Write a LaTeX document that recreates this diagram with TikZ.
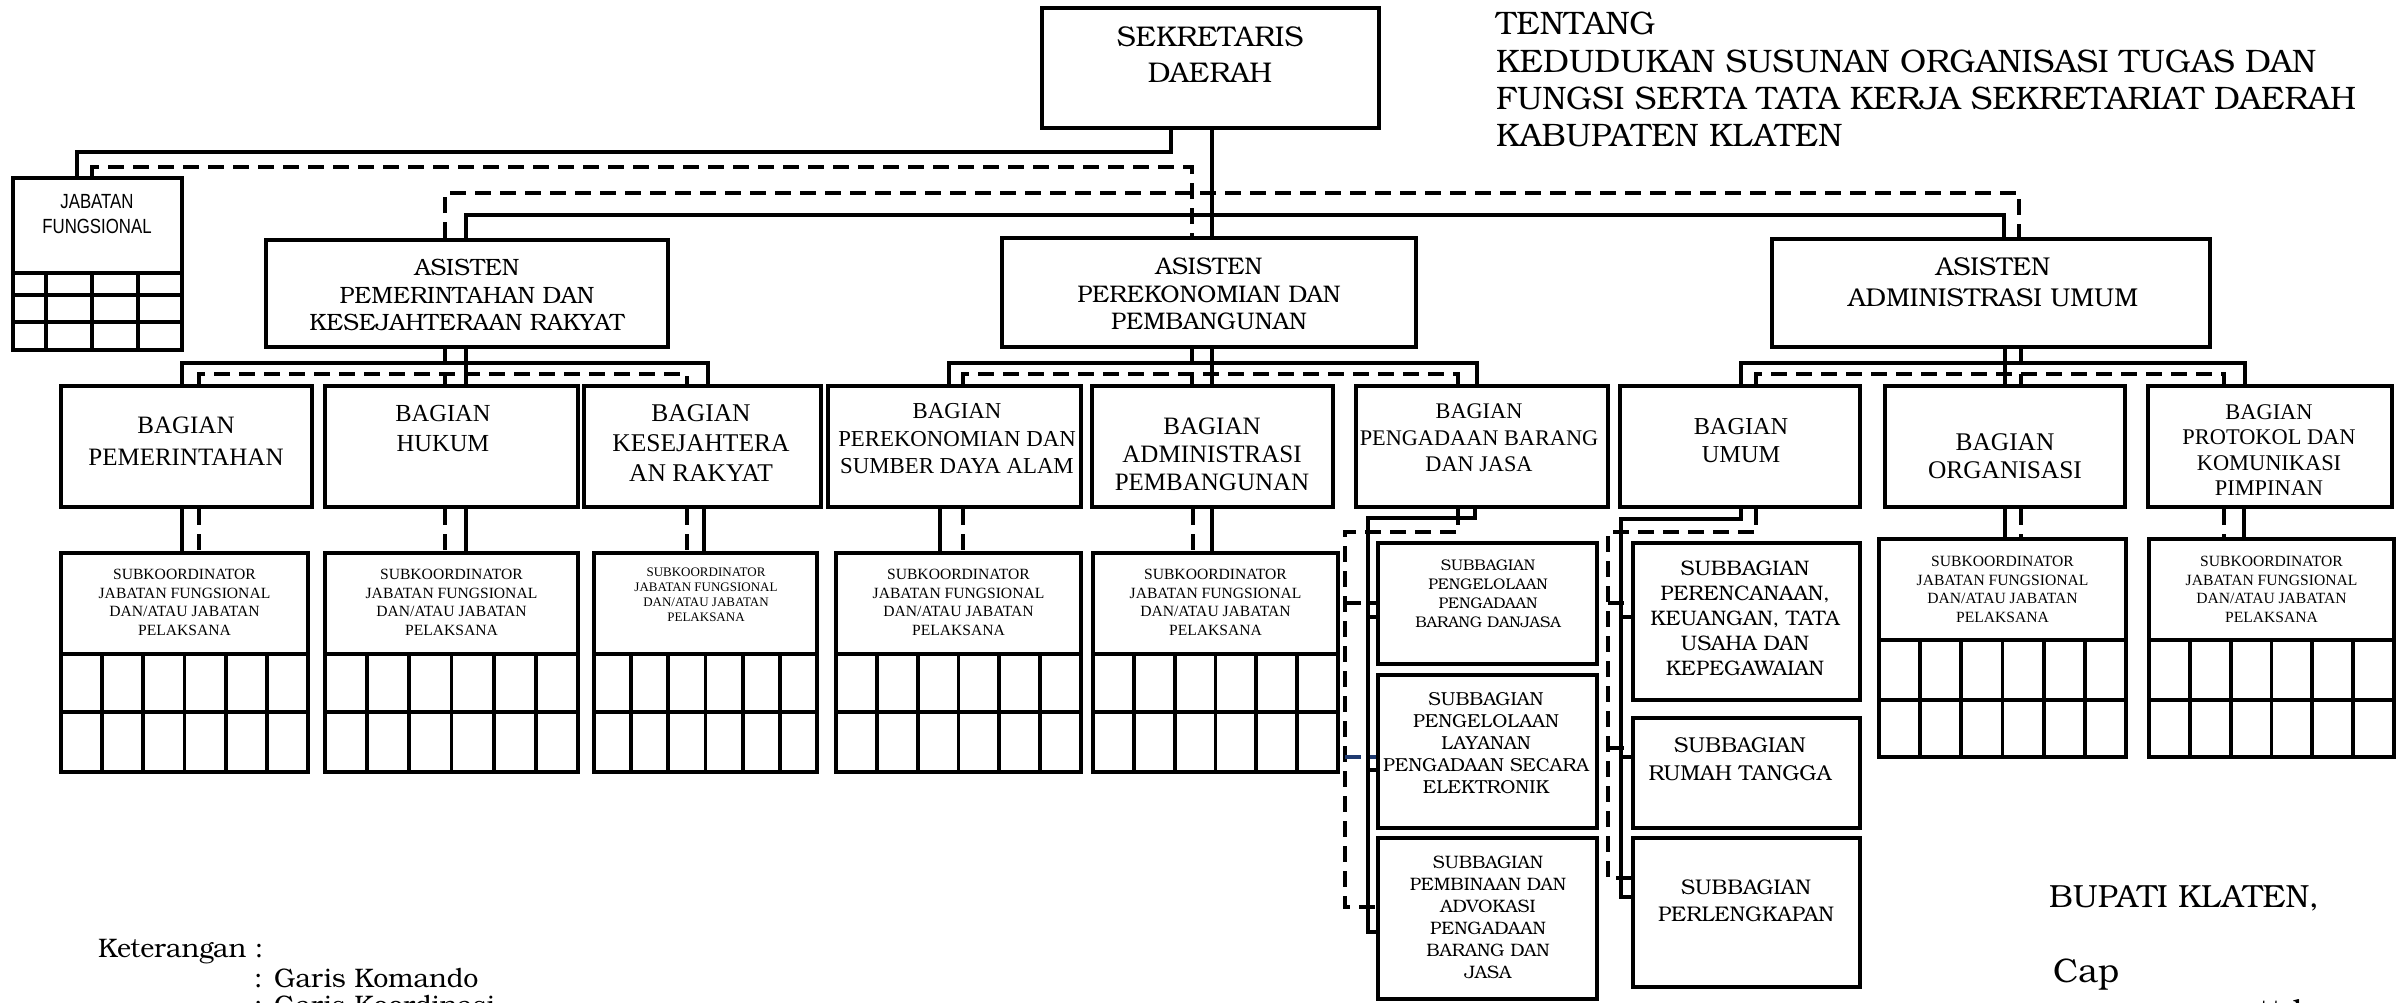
\documentclass[tikz,border=0pt]{standalone}
\usepackage{fontspec}
\setmainfont{Liberation Serif}
\newfontfamily\bk{TeX Gyre Bonum}
\newfontfamily\jfont[FakeStretch=0.82]{Liberation Sans}
\usetikzlibrary{fit}
\definecolor{navyline}{HTML}{1F3A70}
\newcommand\fsz[2]{\fontsize{#1pt}{#2pt}\selectfont}
\begin{document}
\begin{tikzpicture}[x=1pt,y=-1pt,
  bx/.style={draw, line width=4pt, inner sep=0pt, rectangle},
  cmd/.style={line width=3.8pt},
  crd/.style={line width=3.8pt, dash pattern=on 16pt off 9pt},
  grd/.style={line width=3.8pt},
  tx/.style={align=center, inner sep=0pt, text=black}]
\useasboundingbox (0,0) rectangle (2397,1002);
\fill[white] (0,0) rectangle (2397,1002);

% ---------- boxes ----------
\node[bx, fit={(1042,8) (1379,128)}] (sek) {};
\node[bx, fit={(13,178) (182,350)}] (jf) {};
\node[bx, fit={(266,240) (668,347)}] (asPem) {};
\node[bx, fit={(1002,238) (1416,347)}] (asPer) {};
\node[bx, fit={(1772,239) (2210,347)}] (asAdm) {};

\node[bx, fit={(61,386) (312,507)}] (bPem) {};
\node[bx, fit={(325,386) (578,507)}] (bHuk) {};
\node[bx, fit={(584,386) (821,507)}] (bKes) {};
\node[bx, fit={(828,386) (1081,507)}] (bPer) {};
\node[bx, fit={(1092,386) (1333,507)}] (bAdp) {};
\node[bx, fit={(1356,386) (1608,507)}] (bPbj) {};
\node[bx, fit={(1620,386) (1860,507)}] (bUmu) {};
\node[bx, fit={(1885,386) (2125,507)}] (bOrg) {};
\node[bx, fit={(2148,386) (2392,507)}] (bPro) {};

\node[bx, fit={(61,553) (308,772)}] (sPem) {};
\node[bx, fit={(325,553) (578,772)}] (sHuk) {};
\node[bx, fit={(594,553) (817,772)}] (sKes) {};
\node[bx, fit={(836,553) (1081,772)}] (sPer) {};
\node[bx, fit={(1093,553) (1338,772)}] (sAdp) {};
\node[bx, fit={(1879,539) (2126,757)}] (sOrg) {};
\node[bx, fit={(2149,539) (2394,757)}] (sPro) {};

\node[bx, fit={(1378,543) (1597,664)}] (sb1) {};
\node[bx, fit={(1378,675) (1597,828)}] (sb2) {};
\node[bx, fit={(1378,838) (1597,999)}] (sb3) {};
\node[bx, fit={(1633,543) (1860,700)}] (su1) {};
\node[bx, fit={(1633,718) (1860,828)}] (su2) {};
\node[bx, fit={(1633,838) (1860,987)}] (su3) {};

% ---------- grids ----------
\draw[grd] (13,273)--(182,273) (13,295)--(182,295) (13,322)--(182,322);
\foreach \x in {46,92,138} \draw[grd] (\x,273)--(\x,350);
\foreach \a/\b/\t/\m/\e in {61/308/654/712/772, 325/578/654/712/772, 594/817/654/712/772,
    836/1081/654/712/772, 1093/1338/654/712/772, 1879/2126/640/700/757, 2149/2394/640/700/757} {
  \draw[grd] (\a,\t) -- (\b,\t) (\a,\m) -- (\b,\m);
  \foreach \k in {1,...,5} \draw[grd] ({\a+\k*(\b-\a)/6},\t) -- ({\a+\k*(\b-\a)/6},\e);
}

% ---------- texts ----------
\node[tx, font={\bk\fsz{28.5}{36}}] (sek-t) at (1210,55) {SEKRETARIS\\DAERAH};
\node[tx, font={\jfont\fsz{20.5}{25}}] (jf-t) at (97,214) {JABATAN\\FUNGSIONAL};
\node[tx, font={\bk\fsz{23.6}{27.5}}] (asPem-t) at (467,295) {ASISTEN\\PEMERINTAHAN DAN\\KESEJAHTERAAN RAKYAT};
\node[tx, font={\bk\fsz{24}{27.5}}] (asPer-t) at (1209,294) {ASISTEN\\PEREKONOMIAN DAN\\PEMBANGUNAN};
\node[tx, font={\bk\fsz{25.8}{31}}] (asAdm-t) at (1993,282) {ASISTEN\\ADMINISTRASI UMUM};

\node[tx, font={\fsz{25}{32}}] (bPem-t) at (186,441) {BAGIAN\\PEMERINTAHAN};
\node[tx, font={\fsz{24.5}{30}}] (bHuk-t) at (443,428) {BAGIAN\\HUKUM};
\node[tx, font={\fsz{25.5}{30}}] (bKes-t) at (701,443) {BAGIAN\\KESEJAHTERA\\AN RAKYAT};
\node[tx, font={\fsz{22.8}{27.5}}] (bPer-t) at (957,439) {BAGIAN\\PEREKONOMIAN DAN\\SUMBER DAYA ALAM};
\node[tx, font={\fsz{25}{28}}] (bAdp-t) at (1212,454) {BAGIAN\\ADMINISTRASI\\PEMBANGUNAN};
\node[tx, font={\fsz{22.3}{26.5}}] (bPbj-t) at (1479,438) {BAGIAN\\PENGADAAN BARANG\\DAN JASA};
\node[tx, font={\fsz{24.3}{28}}] (bUmu-t) at (1741,441) {BAGIAN\\UMUM};
\node[tx, font={\fsz{25.4}{28}}] (bOrg-t) at (2005,456) {BAGIAN\\ORGANISASI};
\node[tx, font={\fsz{22.4}{25.3}}] (bPro-t) at (2269,450) {BAGIAN\\PROTOKOL DAN\\KOMUNIKASI\\PIMPINAN};

\node[tx, font={\fsz{15.6}{18.5}}] (sPem-t) at (184.5,602.5) {SUBKOORDINATOR\\JABATAN FUNGSIONAL\\DAN/ATAU JABATAN\\PELAKSANA};
\node[tx, font={\fsz{15.6}{18.5}}] (sHuk-t) at (451.5,602.5) {SUBKOORDINATOR\\JABATAN FUNGSIONAL\\DAN/ATAU JABATAN\\PELAKSANA};
\node[tx, font={\fsz{13}{15}}] (sKes-t) at (706,595) {SUBKOORDINATOR\\JABATAN FUNGSIONAL\\DAN/ATAU JABATAN\\PELAKSANA};
\node[tx, font={\fsz{15.6}{18.5}}] (sPer-t) at (958.5,602.5) {SUBKOORDINATOR\\JABATAN FUNGSIONAL\\DAN/ATAU JABATAN\\PELAKSANA};
\node[tx, font={\fsz{15.6}{18.5}}] (sAdp-t) at (1215.5,602.5) {SUBKOORDINATOR\\JABATAN FUNGSIONAL\\DAN/ATAU JABATAN\\PELAKSANA};
\node[tx, font={\fsz{15.6}{18.5}}] (sOrg-t) at (2002.5,589.5) {SUBKOORDINATOR\\JABATAN FUNGSIONAL\\DAN/ATAU JABATAN\\PELAKSANA};
\node[tx, font={\fsz{15.6}{18.5}}] (sPro-t) at (2271.5,589.5) {SUBKOORDINATOR\\JABATAN FUNGSIONAL\\DAN/ATAU JABATAN\\PELAKSANA};

\node[tx, font={\bk\fsz{15.4}{19}}] (sb1-t) at (1488,594) {SUBBAGIAN\\PENGELOLAAN\\PENGADAAN\\BARANG DANJASA};
\node[tx, font={\bk\fsz{18.8}{22}}] (sb2-t) at (1486,743) {SUBBAGIAN\\PENGELOLAAN\\LAYANAN\\PENGADAAN SECARA\\ELEKTRONIK};
\node[tx, font={\bk\fsz{18}{22}}] (sb3-t) at (1488,917) {SUBBAGIAN\\PEMBINAAN DAN\\ADVOKASI\\PENGADAAN\\BARANG DAN\\JASA};
\node[tx, font={\bk\fsz{21}{25}}] (su1-t) at (1745,618) {SUBBAGIAN\\PERENCANAAN,\\KEUANGAN, TATA\\USAHA DAN\\KEPEGAWAIAN};
\node[tx, font={\bk\fsz{21.5}{28}}] (su2-t) at (1740,759) {SUBBAGIAN\\RUMAH TANGGA};
\node[tx, font={\bk\fsz{21.2}{27}}] (su3-t) at (1746,901) {SUBBAGIAN\\PERLENGKAPAN};

\node[tx, align=left, anchor=north west, font={\bk\fsz{32.5}{37.3}}] (title) at (1496,12)
  {TENTANG\\KEDUDUKAN SUSUNAN ORGANISASI TUGAS DAN\\FUNGSI SERTA TATA KERJA SEKRETARIAT DAERAH\\KABUPATEN KLATEN};

\node[tx, anchor=base west, font={\bk\fsz{26.8}{30}}] (ket) at (98,957) {Keterangan :};
\node[tx, anchor=base west, font={\bk\fsz{26.8}{30}}] (ket1) at (254,987) {: Garis Komando};
\node[tx, anchor=base west, font={\bk\fsz{26.8}{30}}] (ket2) at (254,1014) {: Garis Koordinasi};
\node[tx, anchor=base west, font={\bk\fsz{32}{36}}] (bupati) at (2049,907) {BUPATI KLATEN,};
\node[tx, anchor=base west, font={\bk\fsz{34}{38}}] (cap) at (2053,982) {Cap};
\node[tx, anchor=base west, font={\bk\fsz{32}{36}}] (ttd) at (2258,1022) {ttd};

% ---------- top connectors ----------
\draw[cmd] (sek.south -| 1212,0) -- (asPer.north -| 1212,0);
\draw[cmd] (sek.south -| 1171,0) |- (77,152) -- (jf.north -| 77,0);
\draw[crd] (jf.north -| 92,0) |- (1192,167) -- (asPer.north -| 1192,0);
\draw[cmd] (asPem.north -| 466,0) |- (2004,215) -- (asAdm.north -| 2004,0);
\draw[crd] (asPem.north -| 445,0) |- (2019,193) -- (asAdm.north -| 2019,0);

% ---------- asisten -> bagian ----------
\draw[cmd] (asPem.south -| 466,0) -- (bHuk.north -| 466,0);
\draw[cmd] (bPem.north -| 182,0) |- (708,363) -- (bKes.north -| 708,0);
\draw[crd] (asPem.south -| 445,0) -- (bHuk.north -| 445,0);
\draw[crd] (bPem.north -| 199,0) |- (687,374) -- (bKes.north -| 687,0);

\draw[cmd] (asPer.south -| 1212,0) -- (bAdp.north -| 1212,0);
\draw[cmd] (bPer.north -| 949,0) |- (1477,363) -- (bPbj.north -| 1477,0);
\draw[crd] (asPer.south -| 1192,0) -- (bAdp.north -| 1192,0);
\draw[crd] (bPer.north -| 963,0) |- (1458,374) -- (bPbj.north -| 1458,0);

\draw[cmd] (asAdm.south -| 2005,0) -- (bOrg.north -| 2005,0);
\draw[cmd] (bUmu.north -| 1741,0) |- (2245,363) -- (bPro.north -| 2245,0);
\draw[crd] (asAdm.south -| 2021,0) -- (bOrg.north -| 2021,0);
\draw[crd] (bUmu.north -| 1756,0) |- (2224,374) -- (bPro.north -| 2224,0);

% ---------- bagian -> subkoordinator ----------
\draw[cmd] (bPem.south -| 182,0) -- (sPem.north -| 182,0);
\draw[crd] (bPem.south -| 199,0) -- (sPem.north -| 199,0);
\draw[crd] (bHuk.south -| 445,0) -- (sHuk.north -| 445,0);
\draw[cmd] (bHuk.south -| 466,0) -- (sHuk.north -| 466,0);
\draw[crd] (bKes.south -| 687,0) -- (sKes.north -| 687,0);
\draw[cmd] (bKes.south -| 704,0) -- (sKes.north -| 704,0);
\draw[cmd] (bPer.south -| 940,0) -- (sPer.north -| 940,0);
\draw[crd] (bPer.south -| 963,0) -- (sPer.north -| 963,0);
\draw[crd] (bAdp.south -| 1193,0) -- (sAdp.north -| 1193,0);
\draw[cmd] (bAdp.south -| 1212,0) -- (sAdp.north -| 1212,0);
\draw[cmd] (bOrg.south -| 2005,0) -- (sOrg.north -| 2005,0);
\draw[crd] (bOrg.south -| 2021,0) -- (sOrg.north -| 2021,0);
\draw[crd] (bPro.south -| 2224,0) -- (sPro.north -| 2224,0);
\draw[cmd] (bPro.south -| 2244,0) -- (sPro.north -| 2244,0);

% ---------- pengadaan subbagian ----------
\coordinate (pbjS) at (1368,518);
\coordinate (pbjD) at (1345,532);
\draw[cmd] (bPbj.south -| 1475,0) |- (pbjS) |- (sb3.west |- 0,932);
\draw[cmd] (pbjS |- 0,617) -- (sb1.west |- 0,617);
\draw[cmd] (pbjS |- 0,770) -- (sb2.west |- 0,770);
\draw[crd] (bPbj.south -| 1458,0) |- (pbjD) |- (sb3.west |- 0,907);
\draw[crd] (pbjD |- 0,603) -- (sb1.west |- 0,603);
\draw[crd, navyline] (pbjD |- 0,757) -- (sb2.west |- 0,757);

% ---------- umum subbagian ----------
\coordinate (umuS) at (1621,519);
\coordinate (umuD) at (1608,532);
\draw[cmd] (bUmu.south -| 1741,0) |- (umuS) |- (su3.west |- 0,897);
\draw[cmd] (umuS |- 0,617) -- (su1.west |- 0,617);
\draw[cmd] (umuS |- 0,757) -- (su2.west |- 0,757);
\draw[crd] (bUmu.south -| 1756,0) |- (umuD) |- (su3.west |- 0,878);
\draw[crd] (umuD |- 0,603) -- (su1.west |- 0,603);
\draw[crd] (umuD |- 0,748) -- (su2.west |- 0,748);
\end{tikzpicture}
\end{document}
